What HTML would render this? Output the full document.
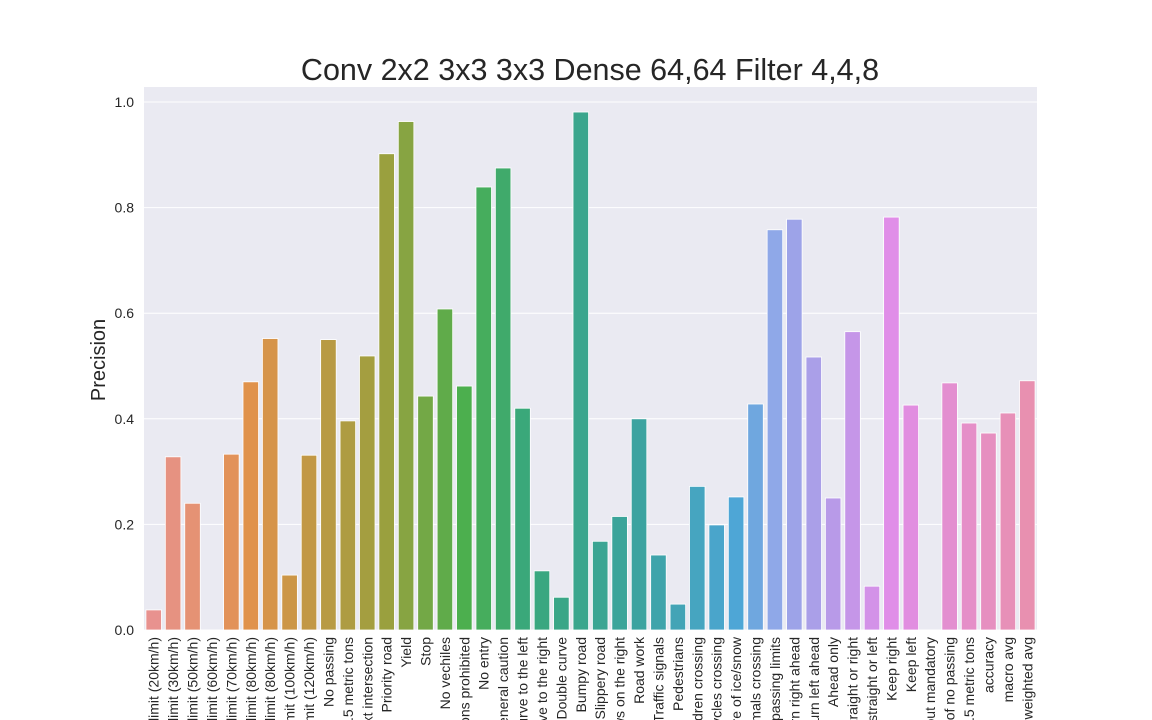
<!DOCTYPE html>
<html><head><meta charset="utf-8"><style>
html,body{margin:0;background:#fff;width:1152px;height:720px;overflow:hidden;font-family:"Liberation Sans",Arial,sans-serif}
svg{display:block;overflow:hidden}
</style></head><body>
<svg id="chart" width="1152" height="720" viewBox="0 0 1152 720" xmlns="http://www.w3.org/2000/svg" font-family="Liberation Sans, Arial, sans-serif">
<defs><clipPath id="frame"><rect x="0" y="0" width="1152" height="720"/></clipPath></defs>
<g clip-path="url(#frame)">
<text x="590" y="80" font-size="30.5" text-anchor="middle" fill="#262626">Conv 2x2 3x3 3x3 Dense 64,64 Filter 4,4,8</text>
<rect x="144" y="87" width="893" height="543" fill="#eaeaf2"/>
<g id="grid"></g><g id="bars"></g><g id="yticks"></g><g id="xticks"></g>
<text transform="translate(105,360) rotate(-90)" font-size="20" text-anchor="middle" fill="#262626">Precision</text>
</g>
</svg>
<script>
const categories=["Speed limit (20km/h)","Speed limit (30km/h)","Speed limit (50km/h)","Speed limit (60km/h)","Speed limit (70km/h)","Speed limit (80km/h)","End of speed limit (80km/h)","Speed limit (100km/h)","Speed limit (120km/h)","No passing","No passing veh over 3.5 metric tons","Right-of-way at the next intersection","Priority road","Yield","Stop","No vechiles","Vechiles over 3.5 metric tons prohibited","No entry","General caution","Dangerous curve to the left","Dangerous curve to the right","Double curve","Bumpy road","Slippery road","Road narrows on the right","Road work","Traffic signals","Pedestrians","Children crossing","Bicycles crossing","Beware of ice/snow","Wild animals crossing","End of all speed and passing limits","Turn right ahead","Turn left ahead","Ahead only","Go straight or right","Go straight or left","Keep right","Keep left","Roundabout mandatory","End of no passing","End of no passing veh over 3.5 metric tons","accuracy","macro avg","weighted avg"];
const values=[0.038,0.328,0.240,0.0,0.333,0.470,0.552,0.104,0.331,0.550,0.396,0.519,0.902,0.963,0.443,0.608,0.462,0.839,0.875,0.420,0.112,0.062,0.981,0.168,0.215,0.400,0.142,0.049,0.272,0.199,0.252,0.428,0.758,0.778,0.517,0.250,0.565,0.083,0.782,0.426,0.0,0.468,0.392,0.373,0.411,0.472];
const yTicks=[0,0.2,0.4,0.6,0.8,1.0];
const NS="http://www.w3.org/2000/svg";
const x0=144,x1=1037,yBase=630,yTop=102;
const bw=(x1-x0)/categories.length;
const y=v=>yBase-(yBase-yTop)*v;
const xc=i=>x0+bw*(i+0.5);
const anchors=[[0,[232,146,143]],[5,[224,146,75]],[12,[154,160,62]],[16,[76,175,78]],[19,[58,168,122]],[25,[59,163,160]],[30,[78,166,214]],[32,[143,168,232]],[35,[184,154,232]],[38,[224,142,232]],[45,[232,144,176]]];
function col(i){for(let k=0;k<anchors.length-1;k++){const [a,ca]=anchors[k],[b,cb]=anchors[k+1];if(i>=a&&i<=b){const t=(i-a)/(b-a);return `rgb(${ca.map((c,j)=>Math.round(c+(cb[j]-c)*t)).join(',')})`;}}return 'gray';}
function mk(t,a,p){const e=document.createElementNS(NS,t);for(const k in a)e.setAttribute(k,a[k]);p.appendChild(e);return e;}
const g=document.getElementById('grid'),yt=document.getElementById('yticks'),bg=document.getElementById('bars'),xt=document.getElementById('xticks');
yTicks.forEach(v=>{
 const l=mk('line',{x1:x0,x2:x1,y1:y(v),y2:y(v),stroke:'#fff','stroke-width':1},g);
 
 
 const t=mk('text',{x:134,y:y(v)+5,'font-size':14,'text-anchor':'end',fill:'#262626'},yt);
 t.textContent=v.toFixed(1);
 
 
});
categories.forEach((c,i)=>{
 const w=bw*0.8;
 const r=mk('rect',{x:xc(i)-w/2,y:y(values[i]),width:w,height:yBase-y(values[i]),fill:col(i),stroke:'#fff','stroke-width':0.8},bg);
 
 
 const t=mk('text',{transform:`translate(${xc(i)+5},637) rotate(-90)`,'font-size':14,'text-anchor':'end',fill:'#262626'},xt);
 t.textContent=c;
 
 
});
</script>
</body></html>
